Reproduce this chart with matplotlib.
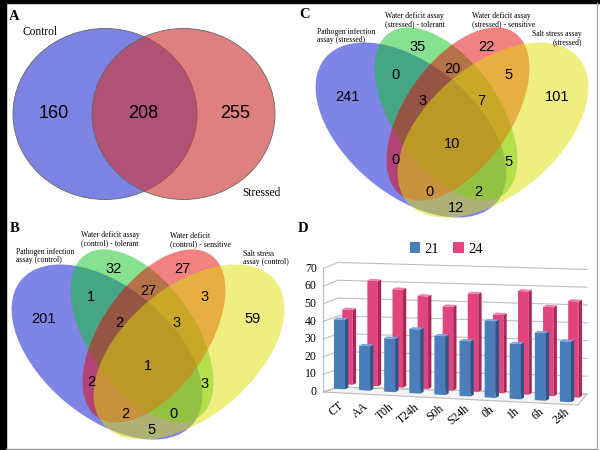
import matplotlib
matplotlib.use('Agg')
import matplotlib.pyplot as plt
from matplotlib.patches import Ellipse, Polygon, Rectangle, Patch
from matplotlib.transforms import Affine2D
import numpy as np

# ---------------- data ----------------
a_sets = ['Control', 'Stressed']
a_counts = [160, 208, 255]          # control only, both, stressed only

b_sets = ['Pathogen infection\nassay (control)', 'Water deficit assay\n(control) - tolerant',
          'Water deficit\n(control) - sensitive', 'Salt stress\nassay (control)']
c_sets = ['Pathogen infection\nassay (stressed)', 'Water deficit assay\n(stressed) - tolerant',
          'Water deficit assay\n(stressed) - sensitive', 'Salt stress assay\n(stressed)']
regions = ['P', 'T', 'S', 'Y', 'PT', 'TS', 'SY', 'PTS', 'TSY', 'PTSY', 'PS', 'TY', 'PSY', 'PTY', 'PY']
b_counts = [201, 32, 27, 59, 1, 27, 3, 2, 3, 1, 2, 3, 2, 0, 5]
c_counts = [241, 35, 22, 101, 0, 20, 5, 3, 7, 10, 0, 5, 0, 2, 12]

categories = ['CT', 'AA', 'T0h', 'T24h', 'S0h', 'S24h', '0h', '1h', '6h', '24h']
series_names = ['21', '24']
v21 = [39, 25, 30, 36, 33, 31, 43, 31, 38, 34]
v24 = [42, 59, 55, 52, 47, 55, 44, 58, 50, 54]
yticks = [0, 10, 20, 30, 40, 50, 60, 70]

# ---------------- figure ----------------
fig = plt.figure(figsize=(6, 4.5), dpi=100)
fig.patch.set_facecolor('white')
ax = fig.add_axes([0, 0, 1, 1])
ax.set_xlim(0, 600)
ax.set_ylim(450, 0)
ax.axis('off')

SERIF = 'Liberation Serif'
SANS = 'Liberation Sans'

# frame
ax.add_patch(Rectangle((0, 0), 6, 450, color='black', zorder=10))
ax.add_patch(Rectangle((0, 0), 600, 3, color='black', zorder=10))
ax.plot([6, 597], [448.5, 448.5], color='#999999', lw=1, zorder=10)
ax.plot([596.5, 596.5], [3, 449], color='#aaaaaa', lw=1, zorder=10)

# ---------------- Panel A ----------------
ax.add_patch(Ellipse((105, 114), 184, 171, facecolor='#7c83e2', edgecolor='#666666', lw=0.6, zorder=1))
ax.add_patch(Ellipse((183.5, 114), 183, 171, facecolor=(206/255, 55/255, 55/255, 0.634),
                     edgecolor='#666666', lw=0.6, zorder=2))
for xx, cnt in zip([54, 143, 235], a_counts):
    ax.text(xx, 113, str(cnt), fontsize=13, family=SANS, ha='center', va='center', zorder=5)
ax.text(14, 16, 'A', fontsize=10.5, family=SERIF, weight='bold', ha='center', va='center')
ax.text(40, 32, a_sets[0], fontsize=8.3, family=SERIF, ha='center', va='center')
ax.text(261, 193, a_sets[1], fontsize=8.3, family=SERIF, ha='center', va='center')

# ---------------- 4-set Venns ----------------
venn_colors = [(0.0, 0.04, 0.82, 0.5), (0.06, 0.78, 0.14, 0.5), (0.9, 0.02, 0.02, 0.5), (0.87, 0.87, 0.02, 0.5)]
# ellipse (dx, dy, width, height, angle) relative to venn centre
ell = [(-41, -14, 224, 130, 40), (-6, -30, 198, 106, 55), (6, -30, 198, 106, -55), (41, -14, 224, 130, -40)]
pos = {'P': (-105, -47), 'T': (-34, -97), 'S': (34, -97), 'Y': (105, -47),
       'PT': (-57, -69), 'TS': (0, -75), 'SY': (57, -69),
       'PTS': (-29, -43), 'TSY': (29, -43), 'PTSY': (0, 0),
       'PS': (-57, 16), 'TY': (57, 18), 'PSY': (-23, 48), 'PTY': (26, 48), 'PY': (4, 64)}


def venn4(cx, cy, counts, names, letter, letter_xy, name_specs):
    for (dx, dy, w, h, ang), col in zip(ell, venn_colors):
        ax.add_patch(Ellipse((cx + dx, cy + dy), w, h, angle=ang, facecolor=col, edgecolor='none', zorder=1))
    for r, cnt in zip(regions, counts):
        px, py = pos[r]
        ax.text(cx + px, cy + py, str(cnt), fontsize=10.5, family=SANS, ha='center', va='center', zorder=5)
    ax.text(letter_xy[0], letter_xy[1], letter, fontsize=10.5, family=SERIF, weight='bold', ha='center', va='center')
    for nm, (x, y, ha) in zip(names, name_specs):
        ax.text(x, y, nm, fontsize=5.6, family=SERIF, ha=ha, va='center', linespacing=1.0, zorder=5)


venn4(148, 366, b_counts, b_sets, 'B', (15, 229),
      [(16, 256, 'left'), (81, 239, 'left'), (170, 240, 'left'), (243, 258, 'left')])
venn4(452, 144, c_counts, c_sets, 'C', (305, 14),
      [(317, 36, 'left'), (385, 20, 'left'), (472, 20, 'left'), (582, 38, 'right')])

# ---------------- Panel D ----------------
ax.text(303, 229, 'D', fontsize=10.5, family=SERIF, weight='bold', ha='center', va='center')
axd = fig.add_axes([0.5, 30 / 450, 0.5, 170 / 450])
axd.set_xlim(-1.574, 10.378)
axd.set_ylim(-17.4, 78.1)
axd.axis('off')
axd.patch.set_alpha(0)

skew_bar = Affine2D(np.array([[1, 0, 0], [-0.803, 1, 0], [0, 0, 1]])) + axd.transData
skew_wall = Affine2D(np.array([[1, 0, 0], [-0.393, 1, 0], [0, 0, 1]])) + axd.transData

# floor
axd.add_patch(Polygon([(-0.658, -1.69), (-0.06, 1.1), (9.86, -2.8), (9.50, -9.0)], closed=True,
                      facecolor='#f4f4f4', edgecolor='#bbbbbb', lw=0.8, zorder=1))
# back wall gridlines
for k in yticks:
    axd.plot([-0.06, 9.86], [1.08 + k, 1.08 + k], color='#bdbdbd', lw=0.8, transform=skew_wall, zorder=1)
    axd.plot([-0.658, -0.06], [-1.69 + 0.99 * k, 1.1 + k], color='#bdbdbd', lw=0.8, zorder=1)
    axd.text(-0.658 - 0.25, -1.69 + 0.99 * k, str(k), fontsize=8.5, family=SERIF, ha='right', va='center')
axd.plot([-0.658, -0.658], [-1.69, -1.69 + 0.99 * 70], color='#bdbdbd', lw=0.8, zorder=1)

x = np.arange(len(categories))
ddx, ddy = 0.13, 1.1


def draw_row(xs, vals, w, base, front, side, top, z):
    bars = axd.bar(xs, vals, width=w, bottom=base, color=front, zorder=z, linewidth=0)
    for b in bars:
        b.set_transform(skew_bar)
    for xi, v in zip(xs, vals):
        r = xi + w / 2
        l = xi - w / 2
        axd.add_patch(Polygon([(r, base), (r + ddx, base + ddy), (r + ddx, base + v + ddy), (r, base + v)],
                              closed=True, facecolor=side, edgecolor='none', transform=skew_bar, zorder=z))
        axd.add_patch(Polygon([(l, base + v), (l + ddx, base + v + ddy), (r + ddx, base + v + ddy), (r, base + v)],
                              closed=True, facecolor=top, edgecolor='none', transform=skew_bar, zorder=z))


draw_row(x + 0.32, v24, 0.42, 2.8, '#e2447f', '#a82659', '#f27aa8', 3)
draw_row(x, v21, 0.44, 0.0, '#4a7ebb', '#2b5688', '#79a5dc', 4)

for i, c in enumerate(categories):
    axd.text(i - 0.05, -5.6 - 0.433 * i, c, fontsize=8.5, family=SERIF, rotation=40,
             ha='right', va='top', rotation_mode='anchor')

handles = [Patch(facecolor='#4a7ebb'), Patch(facecolor='#e2447f')]
axd.legend(handles, series_names, ncol=2, loc='center', bbox_to_anchor=(446 / 600, 1 - 249 / 450),
           bbox_transform=fig.transFigure, frameon=False, handlelength=0.7, handleheight=0.7,
           columnspacing=1.0, handletextpad=0.3, prop={'family': SERIF, 'size': 10.5})

fig.savefig('out.png', dpi=100)
